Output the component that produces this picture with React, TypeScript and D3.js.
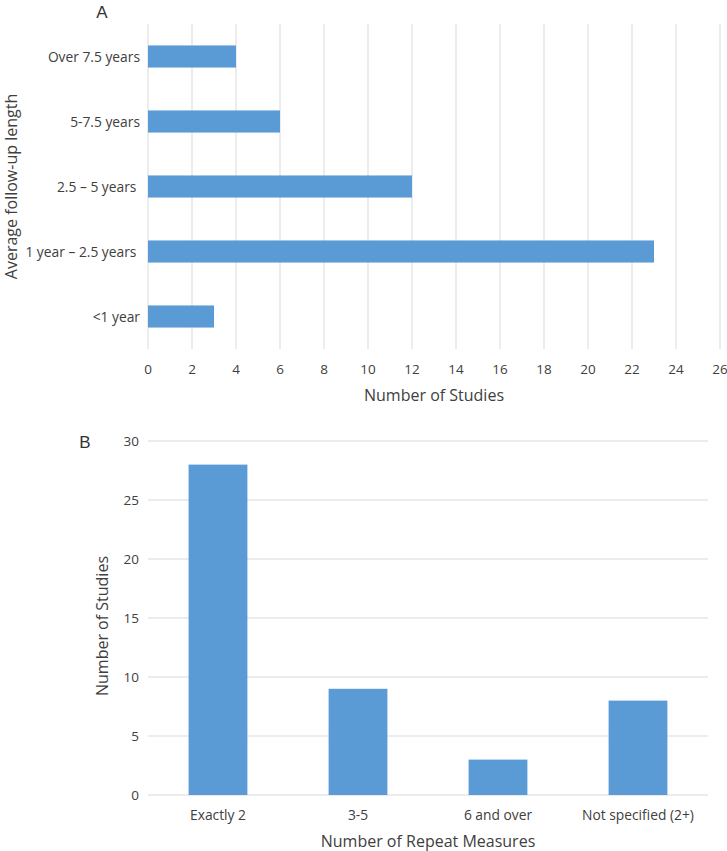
import * as d3 from "d3";
import { useEffect, useRef } from "react";

// Panel A: average follow-up length
const followUpCategories = ["Over 7.5 years", "5-7.5 years", "2.5 – 5 years ", "1 year – 2.5 years ", "<1 year"];
const followUpCounts = [4, 6, 12, 23, 3];
const followUpTicks = [0, 2, 4, 6, 8, 10, 12, 14, 16, 18, 20, 22, 24, 26];

// Panel B: number of repeat measures
const repeatCategories = ["Exactly 2", "3-5", "6 and over", "Not specified (2+)"];
const repeatCounts = [28, 9, 3, 8];
const repeatTicks = [0, 5, 10, 15, 20, 25, 30];

const W = 727;
const H = 851;
const barColor = "#5b9bd5";
const gridColor = "#d9d9d9";
const textColor = "#404040";
const font = "'Open Sans', sans-serif";

const App = () => {
  const ref = useRef<SVGSVGElement>(null);

  useEffect(() => {
    document.body.style.margin = "0";
    const svg = d3.select(ref.current);
    svg.selectAll("*").remove();

    // ---------- Panel A (horizontal bars) ----------
    const a = { left: 148, right: 720, top: 24, bottom: 349 };
    const x = d3.scaleLinear().domain([0, 26]).range([a.left, a.right]);
    const yA = d3
      .scaleBand()
      .domain(followUpCategories)
      .range([a.top, a.bottom])
      .paddingInner(0.66)
      .paddingOuter(0.33);

    const gA = svg.append("g");

    gA.selectAll("line.grid")
      .data(followUpTicks)
      .join("line")
      .attr("x1", (d) => x(d))
      .attr("x2", (d) => x(d))
      .attr("y1", a.top)
      .attr("y2", a.bottom)
      .attr("stroke", gridColor)
      .attr("stroke-width", 1);

    gA.selectAll("rect")
      .data(followUpCounts)
      .join("rect")
      .attr("x", x(0))
      .attr("y", (d, i) => yA(followUpCategories[i])!)
      .attr("width", (d) => x(d) - x(0))
      .attr("height", yA.bandwidth())
      .attr("fill", barColor);

    gA.selectAll("text.tick")
      .data(followUpTicks)
      .join("text")
      .attr("x", (d) => x(d))
      .attr("y", 374)
      .attr("text-anchor", "middle")
      .attr("font-size", 13.5)
      .attr("font-family", font)
      .attr("fill", textColor)
      .text((d) => d);

    gA.selectAll("text.cat")
      .data(followUpCategories)
      .join("text")
      .attr("x", 140)
      .attr("y", (d) => yA(d)! + yA.bandwidth() / 2 + 5)
      .attr("text-anchor", "end")
      .attr("font-size", 13.8)
      .attr("font-family", font)
      .attr("fill", textColor)
      .attr("xml:space", "preserve")
      .style("white-space", "pre")
      .text((d) => d);

    gA.append("text")
      .attr("x", (a.left + a.right) / 2)
      .attr("y", 401)
      .attr("text-anchor", "middle")
      .attr("font-size", 16)
      .attr("font-family", font)
      .attr("fill", textColor)
      .text("Number of Studies");

    gA.append("text")
      .attr("transform", `translate(17,${(a.top + a.bottom) / 2}) rotate(-90)`)
      .attr("text-anchor", "middle")
      .attr("font-size", 16)
      .attr("font-family", font)
      .attr("fill", textColor)
      .text("Average follow-up length");

    gA.append("text")
      .attr("x", 102)
      .attr("y", 18)
      .attr("text-anchor", "middle")
      .attr("font-size", 17)
      .attr("font-family", "'Liberation Sans', Arial, sans-serif")
      .attr("fill", "#333")
      .text("A");

    // ---------- Panel B (vertical bars) ----------
    const b = { left: 148, right: 708, top: 441, bottom: 795 };
    const xB = d3
      .scaleBand()
      .domain(repeatCategories)
      .range([b.left, b.right])
      .paddingInner(0.58)
      .paddingOuter(0.29);
    const yB = d3.scaleLinear().domain([0, 30]).range([b.bottom, b.top]);

    const gB = svg.append("g");

    gB.selectAll("line.grid")
      .data(repeatTicks)
      .join("line")
      .attr("x1", b.left)
      .attr("x2", b.right)
      .attr("y1", (d) => yB(d))
      .attr("y2", (d) => yB(d))
      .attr("stroke", gridColor)
      .attr("stroke-width", 1);

    gB.selectAll("rect")
      .data(repeatCounts)
      .join("rect")
      .attr("x", (d, i) => xB(repeatCategories[i])!)
      .attr("y", (d) => yB(d))
      .attr("width", xB.bandwidth())
      .attr("height", (d) => yB(0) - yB(d))
      .attr("fill", barColor);

    gB.selectAll("text.tick")
      .data(repeatTicks)
      .join("text")
      .attr("x", 139)
      .attr("y", (d) => yB(d) + 5)
      .attr("text-anchor", "end")
      .attr("font-size", 13.5)
      .attr("font-family", font)
      .attr("fill", textColor)
      .text((d) => d);

    gB.selectAll("text.cat")
      .data(repeatCategories)
      .join("text")
      .attr("x", (d) => xB(d)! + xB.bandwidth() / 2)
      .attr("y", 820)
      .attr("text-anchor", "middle")
      .attr("font-size", 13.8)
      .attr("font-family", font)
      .attr("fill", textColor)
      .text((d) => d);

    gB.append("text")
      .attr("x", (b.left + b.right) / 2)
      .attr("y", 847)
      .attr("text-anchor", "middle")
      .attr("font-size", 16)
      .attr("font-family", font)
      .attr("fill", textColor)
      .text("Number of Repeat Measures");

    gB.append("text")
      .attr("transform", `translate(108,${(b.top + b.bottom) / 2 + 8}) rotate(-90)`)
      .attr("text-anchor", "middle")
      .attr("font-size", 16)
      .attr("font-family", font)
      .attr("fill", textColor)
      .text("Number of Studies");

    gB.append("text")
      .attr("x", 85)
      .attr("y", 448)
      .attr("text-anchor", "middle")
      .attr("font-size", 17)
      .attr("font-family", "'Liberation Sans', Arial, sans-serif")
      .attr("fill", "#333")
      .text("B");
  }, []);

  return <svg width={W} height={H} ref={ref} style={{ display: "block" }} />;
};

export default App;
